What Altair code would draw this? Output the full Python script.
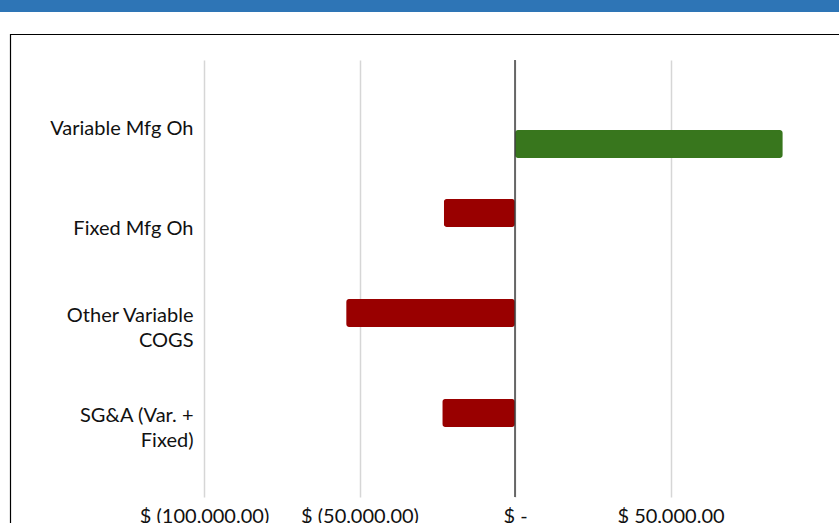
import altair as alt
import pandas as pd

categories = ["Variable Mfg Oh", "Fixed Mfg Oh", "Other Variable COGS", "SG&A (Var. + Fixed)"]
series = ["Favorable", "Unfavorable", "Unfavorable", "Unfavorable"]
values = [86100, -22900, -54300, -23400]
series_order = ["Unfavorable", "Favorable"]
tick_values = [-100000, -50000, 0, 50000]

df = pd.DataFrame({"category": categories, "series": series, "value": values})

W, H = 622, 437
PL, PT = 204, 60
FONT = "Lato"
FS = 20

x_scale = alt.Scale(domain=[-100000, 100000], nice=False, zero=False)

label_expr_x = ("datum.value == 0 ? '$ -' : datum.value < 0 ? "
                "'$ (' + format(-datum.value, ',.2f') + ')' : '$ ' + format(datum.value, ',.2f')")
label_expr_y = ("datum.label == 'Other Variable COGS' ? ['Other Variable', 'COGS'] : "
                "datum.label == 'SG&A (Var. + Fixed)' ? ['SG&A (Var. +', 'Fixed)'] : datum.label")
multi_test = "datum.value == 'Other Variable COGS' || datum.value == 'SG&A (Var. + Fixed)'"

bars = alt.Chart(df).mark_bar(cornerRadius=3).encode(
    x=alt.X("value:Q", scale=x_scale,
            axis=alt.Axis(values=tick_values, title=None, labelExpr=label_expr_x,
                          grid=True, gridColor="#d6d6d6", gridWidth=1.5,
                          domain=False, ticks=False, labelPadding=9,
                          labelOverlap=False, labelFlush=False,
                          labelFont=FONT, labelFontSize=FS, labelColor="#111111")),
    y=alt.Y("category:N", sort=categories,
            scale=alt.Scale(domain=categories, paddingInner=0, paddingOuter=0.185),
            axis=alt.Axis(title=None, labelExpr=label_expr_y, domain=False, ticks=False,
                          grid=False,
                          labelPadding=11, labelFont=FONT, labelFontSize=FS,
                          labelColor="#111111", labelLineHeight=25, labelLimit=300,
                          labelOffset={"condition": {"test": multi_test, "value": -12.5},
                                       "value": 0})),
    yOffset=alt.YOffset("series:N",
                        scale=alt.Scale(domain=series_order, paddingInner=0.0968, paddingOuter=0.661)),
    color=alt.Color("series:N",
                    scale=alt.Scale(domain=series_order, range=["#990000", "#38761d"]),
                    legend=None),
)

zero = alt.Chart(pd.DataFrame({"v": [0]})).mark_rule(color="#404040", strokeWidth=1.5).encode(
    x=alt.X("v:Q", scale=x_scale),
    y=alt.value(0), y2=alt.value(H),
)

border = alt.Chart(pd.DataFrame({"v": [0]})).mark_rect(
    fill="transparent", stroke="#000000", strokeWidth=1.2, clip=False
).encode(
    x=alt.value(10 - PL + 0.5), x2=alt.value(1000),
    y=alt.value(34 - PT + 0.5), y2=alt.value(1000),
)

header = alt.Chart(pd.DataFrame({"v": [0]})).mark_rect(
    fill="#2e75b6", strokeWidth=0, clip=False
).encode(
    x=alt.value(-PL), x2=alt.value(1000),
    y=alt.value(-PT), y2=alt.value(12 - PT),
)

chart = alt.layer(border, header, bars, zero).properties(
    width=W, height=H,
    background="white",
    autosize=alt.AutoSizeParams(type="none"),
    padding={"left": PL, "top": PT, "right": 839 - PL - W, "bottom": 523 - PT - H},
).configure_view(strokeWidth=0, stroke="transparent")

chart.save("out.html", embed_options={"renderer": "svg", "actions": False})
